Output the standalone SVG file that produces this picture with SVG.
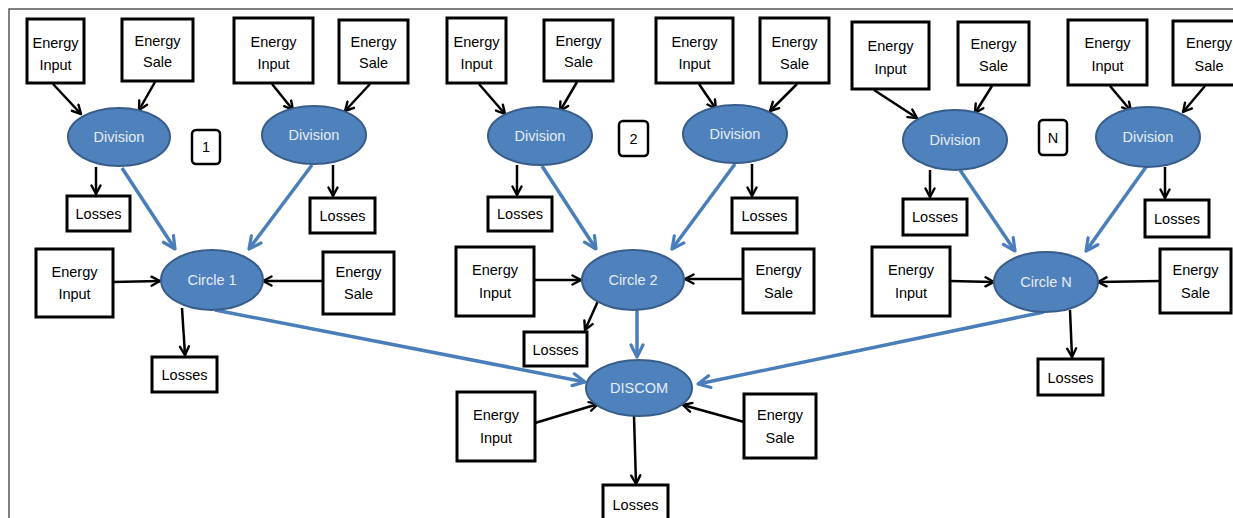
<svg xmlns="http://www.w3.org/2000/svg" width="1233" height="518" viewBox="0 0 1233 518">
<defs>
<marker id="ah" viewBox="0 0 12 12" refX="10" refY="6" markerWidth="12" markerHeight="12" markerUnits="userSpaceOnUse" orient="auto">
<path d="M1.5,1.5 L10,6 L1.5,10.5" fill="none" stroke="#000" stroke-width="2.4" stroke-linecap="round" stroke-linejoin="round"/>
</marker>
<marker id="bh" viewBox="0 0 16 16" refX="14" refY="8" markerWidth="16" markerHeight="16" markerUnits="userSpaceOnUse" orient="auto">
<path d="M2,2 L14,8 L2,14" fill="none" stroke="#4a7ebb" stroke-width="3.2" stroke-linecap="round" stroke-linejoin="round"/>
</marker>
</defs>
<style>
.box{fill:#fff;stroke:#000;stroke-width:3}
.num{fill:#fff;stroke:#000;stroke-width:2.5}
.ell{fill:#4f81bd;stroke:#385d8a;stroke-width:2}
.t{font-family:"Liberation Sans",Arial,sans-serif;font-size:14.5px;fill:#000;text-anchor:middle}
.w{font-family:"Liberation Sans",Arial,sans-serif;font-size:14.5px;fill:#e6edf6;text-anchor:middle}
.k{fill:none;stroke:#000;stroke-width:2.5;marker-end:url(#ah)}
.b{fill:none;stroke:#4a7ebb;stroke-width:3.5;marker-end:url(#bh)}
</style>
<rect width="1233" height="518" fill="#fff"/>
<path d="M9,518 L9,9 L1233,9" fill="none" stroke="#555" stroke-width="1.5"/>

<g id="connectors">
<line class="k" x1="53" y1="84" x2="81" y2="114"/>
<line class="k" x1="155" y1="82" x2="139" y2="110"/>
<line class="k" x1="272" y1="84" x2="293" y2="110"/>
<line class="k" x1="370" y1="84" x2="345" y2="111"/>
<line class="k" x1="479" y1="84" x2="505" y2="114"/>
<line class="k" x1="577" y1="82" x2="560" y2="111"/>
<line class="k" x1="699" y1="84" x2="716" y2="109"/>
<line class="k" x1="797" y1="84" x2="770" y2="111"/>
<line class="k" x1="874" y1="90" x2="917" y2="118"/>
<line class="k" x1="992" y1="86" x2="975" y2="113"/>
<line class="k" x1="1110" y1="86" x2="1131" y2="111"/>
<line class="k" x1="1205" y1="86" x2="1183" y2="112"/>
<line class="k" x1="96" y1="167" x2="96" y2="194"/>
<line class="k" x1="333" y1="165" x2="333" y2="196"/>
<line class="k" x1="517" y1="165" x2="517" y2="195"/>
<line class="k" x1="752" y1="164" x2="752" y2="196"/>
<line class="k" x1="930" y1="170" x2="930" y2="197"/>
<line class="k" x1="1165" y1="167" x2="1165" y2="198"/>
<line class="b" x1="122" y1="168" x2="175" y2="249"/>
<line class="b" x1="312" y1="165" x2="249" y2="249"/>
<line class="b" x1="542" y1="166" x2="596" y2="249"/>
<line class="b" x1="735" y1="164" x2="672" y2="249"/>
<line class="b" x1="960" y1="170" x2="1015" y2="251"/>
<line class="b" x1="1146" y1="167" x2="1086" y2="251"/>
<line class="k" x1="113" y1="282" x2="160" y2="281"/>
<line class="k" x1="323" y1="281" x2="263" y2="281"/>
<line class="k" x1="534" y1="280" x2="581" y2="280"/>
<line class="k" x1="743" y1="279" x2="685" y2="279"/>
<line class="k" x1="950" y1="281" x2="994" y2="282"/>
<line class="k" x1="1160" y1="281" x2="1098" y2="282"/>
<line class="k" x1="182" y1="308" x2="185" y2="355"/>
<line class="k" x1="598" y1="301" x2="585" y2="330"/>
<line class="k" x1="1070" y1="310" x2="1072" y2="357"/>
<line class="b" x1="215" y1="310" x2="585" y2="382"/>
<line class="b" x1="637" y1="310" x2="637" y2="357"/>
<line class="b" x1="1044" y1="312" x2="698" y2="384"/>
<line class="k" x1="535" y1="423" x2="598" y2="404"/>
<line class="k" x1="744" y1="422" x2="683" y2="405"/>
<line class="k" x1="634" y1="416" x2="636" y2="484"/>
</g>

<g id="ei1"><rect class="box" x="27" y="19" width="57" height="64"/><text class="t" x="55.5" y="48">Energy</text><text class="t" x="55.5" y="70">Input</text></g>
<g id="es1"><rect class="box" x="122" y="19" width="71" height="62"/><text class="t" x="157.5" y="46">Energy</text><text class="t" x="157.5" y="67">Sale</text></g>
<g id="ei2"><rect class="box" x="234" y="18" width="79" height="65"/><text class="t" x="273.5" y="47">Energy</text><text class="t" x="273.5" y="69">Input</text></g>
<g id="es2"><rect class="box" x="339" y="20" width="69" height="63"/><text class="t" x="373.5" y="47">Energy</text><text class="t" x="373.5" y="68">Sale</text></g>
<g id="ei3"><rect class="box" x="447" y="18" width="59" height="65"/><text class="t" x="476.5" y="47">Energy</text><text class="t" x="476.5" y="69">Input</text></g>
<g id="es3"><rect class="box" x="544" y="20" width="69" height="61"/><text class="t" x="578.5" y="46">Energy</text><text class="t" x="578.5" y="67">Sale</text></g>
<g id="ei4"><rect class="box" x="656" y="18" width="77" height="65"/><text class="t" x="694.5" y="47">Energy</text><text class="t" x="694.5" y="69">Input</text></g>
<g id="es4"><rect class="box" x="760" y="18" width="69" height="65"/><text class="t" x="794.5" y="47">Energy</text><text class="t" x="794.5" y="69">Sale</text></g>
<g id="ei5"><rect class="box" x="852" y="22" width="77" height="67"/><text class="t" x="890.5" y="51">Energy</text><text class="t" x="890.5" y="74">Input</text></g>
<g id="es5"><rect class="box" x="958" y="22" width="71" height="63"/><text class="t" x="993.5" y="49">Energy</text><text class="t" x="993.5" y="71">Sale</text></g>
<g id="ei6"><rect class="box" x="1068" y="20" width="79" height="65"/><text class="t" x="1107.5" y="48">Energy</text><text class="t" x="1107.5" y="71">Input</text></g>
<g id="es6"><rect class="box" x="1173" y="21" width="72" height="64"/><text class="t" x="1209" y="48">Energy</text><text class="t" x="1209" y="71">Sale</text></g>

<g id="d1"><ellipse class="ell" cx="119" cy="137" rx="51" ry="29"/><text class="w" x="119" y="142">Division</text></g>
<g id="d2"><ellipse class="ell" cx="314" cy="135" rx="52" ry="29"/><text class="w" x="314" y="140">Division</text></g>
<g id="d3"><ellipse class="ell" cx="540" cy="136" rx="52" ry="29"/><text class="w" x="540" y="141">Division</text></g>
<g id="d4"><ellipse class="ell" cx="735" cy="134" rx="52" ry="29"/><text class="w" x="735" y="139">Division</text></g>
<g id="d5"><ellipse class="ell" cx="955" cy="140" rx="52" ry="30"/><text class="w" x="955" y="145">Division</text></g>
<g id="d6"><ellipse class="ell" cx="1148" cy="137" rx="52" ry="30"/><text class="w" x="1148" y="142">Division</text></g>

<g id="n1"><rect class="num" x="192" y="130" width="28" height="34" rx="4"/><text class="t" x="206" y="152">1</text></g>
<g id="n2"><rect class="num" x="619" y="121" width="29" height="35" rx="4"/><text class="t" x="633.5" y="144">2</text></g>
<g id="nN"><rect class="num" x="1039" y="120" width="28" height="35" rx="4"/><text class="t" x="1053" y="143">N</text></g>

<g id="l1"><rect class="box" x="67" y="196" width="63" height="35"/><text class="t" x="98.5" y="219">Losses</text></g>
<g id="l2"><rect class="box" x="310" y="198" width="65" height="35"/><text class="t" x="342.5" y="221">Losses</text></g>
<g id="l3"><rect class="box" x="488" y="197" width="64" height="34"/><text class="t" x="520" y="219">Losses</text></g>
<g id="l4"><rect class="box" x="732" y="198" width="65" height="35"/><text class="t" x="764.5" y="221">Losses</text></g>
<g id="l5"><rect class="box" x="903" y="199" width="64" height="36"/><text class="t" x="935" y="222">Losses</text></g>
<g id="l6"><rect class="box" x="1145" y="200" width="64" height="37"/><text class="t" x="1177" y="224">Losses</text></g>

<g id="c1"><ellipse class="ell" cx="212" cy="280" rx="51" ry="30"/><text class="w" x="212" y="285">Circle 1</text></g>
<g id="c2"><ellipse class="ell" cx="633" cy="280" rx="51" ry="30"/><text class="w" x="633" y="285">Circle 2</text></g>
<g id="cN"><ellipse class="ell" cx="1046" cy="282" rx="52" ry="30"/><text class="w" x="1046" y="287">Circle N</text></g>

<g id="ci1"><rect class="box" x="36" y="249" width="77" height="68"/><text class="t" x="74.5" y="277">Energy</text><text class="t" x="74.5" y="299">Input</text></g>
<g id="cs1"><rect class="box" x="323" y="252" width="71" height="62"/><text class="t" x="358.5" y="277">Energy</text><text class="t" x="358.5" y="299">Sale</text></g>
<g id="ci2"><rect class="box" x="456" y="247" width="78" height="69"/><text class="t" x="495" y="275">Energy</text><text class="t" x="495" y="298">Input</text></g>
<g id="cs2"><rect class="box" x="743" y="249" width="71" height="64"/><text class="t" x="778.5" y="275">Energy</text><text class="t" x="778.5" y="298">Sale</text></g>
<g id="ciN"><rect class="box" x="872" y="247" width="78" height="69"/><text class="t" x="911" y="275">Energy</text><text class="t" x="911" y="298">Input</text></g>
<g id="csN"><rect class="box" x="1160" y="249" width="71" height="64"/><text class="t" x="1195.5" y="275">Energy</text><text class="t" x="1195.5" y="298">Sale</text></g>

<g id="cl1"><rect class="box" x="152" y="357" width="65" height="35"/><text class="t" x="184.5" y="380">Losses</text></g>
<g id="cl2"><rect class="box" x="524" y="332" width="63" height="34"/><text class="t" x="555.5" y="355">Losses</text></g>
<g id="clN"><rect class="box" x="1038" y="359" width="65" height="36"/><text class="t" x="1070.5" y="383">Losses</text></g>

<g id="discom"><ellipse class="ell" cx="639" cy="388" rx="53" ry="28"/><text class="w" x="639" y="393">DISCOM</text></g>
<g id="di"><rect class="box" x="457" y="392" width="78" height="69"/><text class="t" x="496" y="420">Energy</text><text class="t" x="496" y="443">Input</text></g>
<g id="ds"><rect class="box" x="744" y="394" width="72" height="64"/><text class="t" x="780" y="420">Energy</text><text class="t" x="780" y="443">Sale</text></g>
<g id="dl"><rect class="box" x="603" y="485" width="65" height="40"/><text class="t" x="635.5" y="510">Losses</text></g>
</svg>
